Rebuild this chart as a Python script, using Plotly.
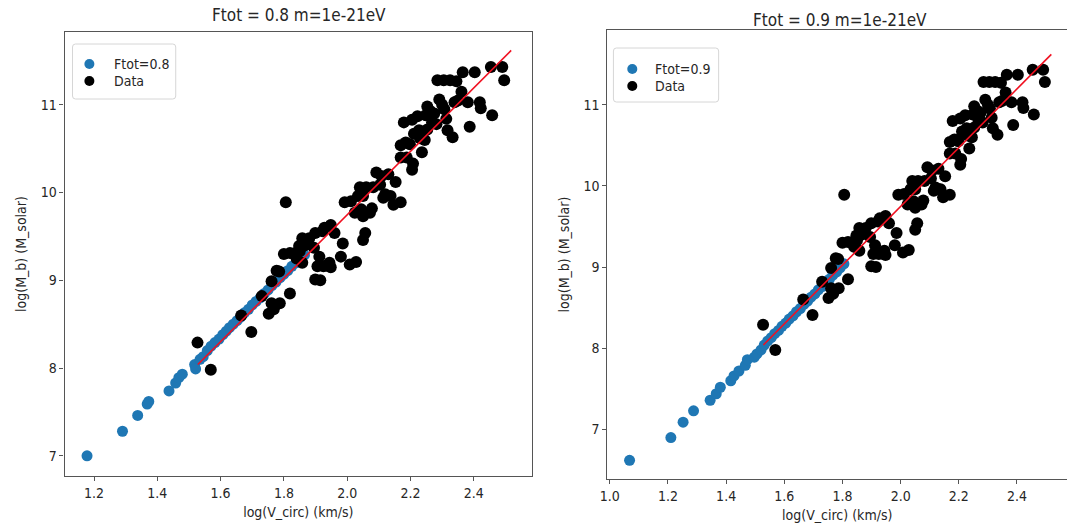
import plotly.graph_objects as go

# ---------------- data ----------------
data_x = [2.490, 2.454, 2.496, 2.403, 2.365, 2.285, 2.305, 2.325, 2.345, 2.361,
          2.381, 2.419, 2.422, 2.458, 2.387, 2.339, 2.307, 2.291, 2.253, 2.262,
          2.313, 2.317, 2.333, 2.268, 2.253, 2.227, 2.238, 2.179, 2.205, 2.222,
          2.211, 2.185, 2.169, 2.198, 2.236, 2.188, 2.169, 2.205, 2.208, 2.230,
          2.275, 2.350, 2.300, 2.245, 2.282, 2.248,
          2.092, 2.130, 2.153, 2.137, 2.169, 2.060, 2.050, 2.012, 2.072, 2.078,
          2.108, 2.104, 2.082, 2.120, 2.146, 2.114, 2.040, 2.034, 1.992, 2.044,
          2.024, 2.050, 1.806, 2.057, 2.050, 1.986,
          1.948, 1.922, 1.880, 1.867, 1.836, 1.960, 1.928, 1.899, 1.858, 1.848,
          1.870, 1.819, 1.895, 1.944, 1.980, 1.777, 2.028, 1.912, 1.858, 1.906,
          1.925, 1.935, 1.948, 2.008, 1.899, 1.915, 1.785, 1.761, 1.819, 1.787,
          1.761, 1.752, 1.730, 1.665, 1.697, 1.527, 1.569, 1.835, 1.850, 1.840,
          1.800, 1.768]
data_y = [11.43, 11.43, 11.28, 11.37, 11.37, 11.28, 11.28, 11.28, 11.27, 11.15,
          11.03, 11.03, 10.96, 10.88, 10.75, 11.03, 10.95, 11.06, 10.98, 10.93,
          10.84, 10.71, 10.63, 10.80, 10.72, 10.71, 10.68, 10.80, 10.83, 10.87,
          10.67, 10.57, 10.54, 10.55, 10.46, 10.40, 10.40, 10.26, 10.33, 10.62,
          10.90, 11.05, 11.00, 10.60, 10.78, 10.88,
          10.23, 10.21, 10.12, 9.96, 9.89, 10.06, 9.96, 9.90, 9.77, 9.82,
          10.19, 10.09, 10.06, 9.98, 9.86, 9.94, 10.06, 9.96, 9.89, 9.81,
          9.77, 9.73, 9.89, 9.54, 9.46, 9.42,
          9.63, 9.56, 9.48, 9.40, 9.31, 9.54, 9.60, 9.54, 9.48, 9.39,
          9.42, 9.31, 9.37, 9.20, 9.27, 9.11, 9.21, 9.27, 9.20, 9.16,
          9.16, 9.17, 9.15, 9.18, 9.01, 9.00, 9.10, 8.99, 8.85, 8.74,
          8.74, 8.62, 8.82, 8.60, 8.41, 8.29, 7.98, 9.29, 9.33, 9.25,
          9.30, 8.67]

model08_x = [1.178, 1.290, 1.338, 1.368, 1.373, 1.437, 1.458, 1.468, 1.479, 1.518,
             1.521, 1.535, 1.545, 1.558, 1.570, 1.582, 1.595, 1.607, 1.618, 1.628,
             1.640, 1.652, 1.663, 1.675, 1.688, 1.700, 1.712, 1.725, 1.738, 1.750,
             1.762, 1.775, 1.788, 1.800, 1.812, 1.825, 1.838, 1.852, 1.865]
model08_y = [7.00, 7.28, 7.46, 7.59, 7.62, 7.74, 7.83, 7.89, 7.93, 8.04,
             7.99, 8.10, 8.13, 8.20, 8.25, 8.29, 8.33, 8.38, 8.42, 8.46,
             8.50, 8.54, 8.58, 8.63, 8.67, 8.72, 8.76, 8.80, 8.85, 8.89,
             8.94, 8.98, 9.03, 9.07, 9.11, 9.16, 9.20, 9.25, 9.29]

model09_x = [1.068, 1.210, 1.252, 1.288, 1.345, 1.366, 1.380, 1.416, 1.427, 1.444,
             1.466, 1.473, 1.497, 1.506, 1.520, 1.531, 1.543, 1.555, 1.567, 1.580,
             1.592, 1.605, 1.617, 1.630, 1.642, 1.655, 1.667, 1.680, 1.692, 1.705,
             1.717, 1.730, 1.742, 1.755, 1.767, 1.780, 1.792, 1.805]
model09_y = [6.62, 6.90, 7.09, 7.23, 7.36, 7.44, 7.52, 7.60, 7.66, 7.72,
             7.79, 7.86, 7.89, 7.93, 7.98, 8.04, 8.09, 8.13, 8.18, 8.22,
             8.27, 8.31, 8.36, 8.40, 8.45, 8.49, 8.54, 8.58, 8.63, 8.67,
             8.72, 8.76, 8.81, 8.85, 8.90, 8.94, 8.99, 9.04]

fit_x = [1.528, 2.518]
fit_y = [8.04, 11.62]

titles = ["Ftot = 0.8 m=1e-21eV", "Ftot = 0.9 m=1e-21eV"]
model_names = ["Ftot=0.8", "Ftot=0.9"]
data_name = "Data"
x_label = "log(V_circ) (km/s)"
y_label = "log(M_b) (M_solar)"
x_ticks_left = [1.2, 1.4, 1.6, 1.8, 2.0, 2.2, 2.4]
x_ticks_right = [1.0, 1.2, 1.4, 1.6, 1.8, 2.0, 2.2, 2.4]
y_ticks = [7, 8, 9, 10, 11]

# ---------------- styling ----------------
W, H = 1067, 531
FONT = "DejaVu Sans Condensed, Liberation Sans Narrow, DejaVu Sans, sans-serif"
TXT = "#262626"
AX = "#555555"
BLUE = "#1f77b4"
RED = "#f01020"

def px_x(p):
    return p / W

def px_y(p):
    return 1 - p / H

fig = go.Figure()

models = [(model08_x, model08_y), (model09_x, model09_y)]
for i in range(2):
    xa = "x" if i == 0 else "x2"
    ya = "y" if i == 0 else "y2"
    mx, my = models[i]
    fig.add_trace(go.Scatter(x=mx, y=my, mode="markers", name=model_names[i],
                             marker=dict(color=BLUE, size=11, line=dict(width=0)),
                             xaxis=xa, yaxis=ya, showlegend=False))
    fig.add_trace(go.Scatter(x=data_x, y=data_y, mode="markers", name=data_name,
                             marker=dict(color="black", size=12, line=dict(width=0)),
                             xaxis=xa, yaxis=ya, showlegend=False))
    fig.add_trace(go.Scatter(x=fit_x, y=fit_y, mode="lines", showlegend=False,
                             line=dict(color=RED, width=1.6),
                             xaxis=xa, yaxis=ya))

axis_common = dict(showline=True, linecolor=AX, linewidth=1.2,
                   ticks="outside", ticklen=4, tickcolor=AX, showgrid=False,
                   zeroline=False, tickfont=dict(family=FONT, size=14, color=TXT))
lab_font = dict(family=FONT, size=14, color=TXT)

fig.update_layout(
    width=W, height=H, margin=dict(l=0, r=0, t=0, b=0),
    paper_bgcolor="white", plot_bgcolor="white",
    font=dict(family=FONT, color=TXT, size=14),
    showlegend=False,
    xaxis=dict(domain=[px_x(57), px_x(528)], range=[1.107, 2.584], tickvals=x_ticks_left,
               ticktext=[f"{v:.1f}" for v in x_ticks_left], anchor="y", mirror=True,
               title=dict(text=x_label, font=lab_font, standoff=7), **axis_common),
    yaxis=dict(domain=[px_y(476), px_y(32)], range=[6.77, 11.83], tickvals=y_ticks,
               anchor="x", mirror=True,
               title=dict(text=y_label, font=lab_font, standoff=10), **axis_common),
    xaxis2=dict(domain=[px_x(604), 1.0], range=[0.992, 2.572], tickvals=x_ticks_right,
                ticktext=[f"{v:.1f}" for v in x_ticks_right], anchor="y2", mirror=True,
                title=dict(text=x_label, font=lab_font, standoff=7), **axis_common),
    yaxis2=dict(domain=[px_y(479), px_y(30)], range=[6.39, 11.92], tickvals=y_ticks,
                anchor="x2", mirror=False,
                title=dict(text=y_label, font=lab_font, standoff=10), **axis_common),
)

# titles
fig.add_annotation(text=titles[0], x=px_x(293), y=px_y(15), xref="paper", yref="paper",
                   xanchor="center", yanchor="middle", showarrow=False,
                   font=dict(family=FONT, size=17, color=TXT))
fig.add_annotation(text=titles[1], x=px_x(838), y=px_y(20), xref="paper", yref="paper",
                   xanchor="center", yanchor="middle", showarrow=False,
                   font=dict(family=FONT, size=17, color=TXT))

# legends drawn as boxes (matplotlib style)
def rounded_box(x0, y0, x1, y1, r=3):
    X = lambda p: px_x(p)
    Y = lambda p: px_y(p)
    return (f"M {X(x0+r)},{Y(y0)} L {X(x1-r)},{Y(y0)} Q {X(x1)},{Y(y0)} {X(x1)},{Y(y0+r)} "
            f"L {X(x1)},{Y(y1-r)} Q {X(x1)},{Y(y1)} {X(x1-r)},{Y(y1)} "
            f"L {X(x0+r)},{Y(y1)} Q {X(x0)},{Y(y1)} {X(x0)},{Y(y1-r)} "
            f"L {X(x0)},{Y(y0+r)} Q {X(x0)},{Y(y0)} {X(x0+r)},{Y(y0)} Z")

legend_specs = [
    # box x0, y0, x1, y1, marker x, text x, row1 y, row2 y
    (model_names[0], 65, 44, 169, 99, 82, 105, 64, 81),
    (model_names[1], 610, 48, 716, 102, 629, 650, 69, 86),
]
for name, bx0, by0, bx1, by1, mxp, txp, r1, r2 in legend_specs:
    fig.add_shape(type="path", path=rounded_box(bx0, by0, bx1, by1), xref="paper", yref="paper",
                  line=dict(color="#d6d6d6", width=1), fillcolor="rgba(255,255,255,0.85)")
    for (ry, col, label) in [(r1, BLUE, name), (r2, "black", data_name)]:
        fig.add_shape(type="circle", xref="paper", yref="paper",
                      xsizemode="pixel", ysizemode="pixel",
                      xanchor=px_x(mxp), yanchor=px_y(ry),
                      x0=-5, x1=5, y0=-5, y1=5,
                      fillcolor=col, line=dict(width=0))
        fig.add_annotation(text=label, x=px_x(txp), y=px_y(ry), xref="paper", yref="paper",
                           xanchor="left", yanchor="middle", showarrow=False,
                           font=dict(family=FONT, size=14, color=TXT))

fig.write_html("out.html")
